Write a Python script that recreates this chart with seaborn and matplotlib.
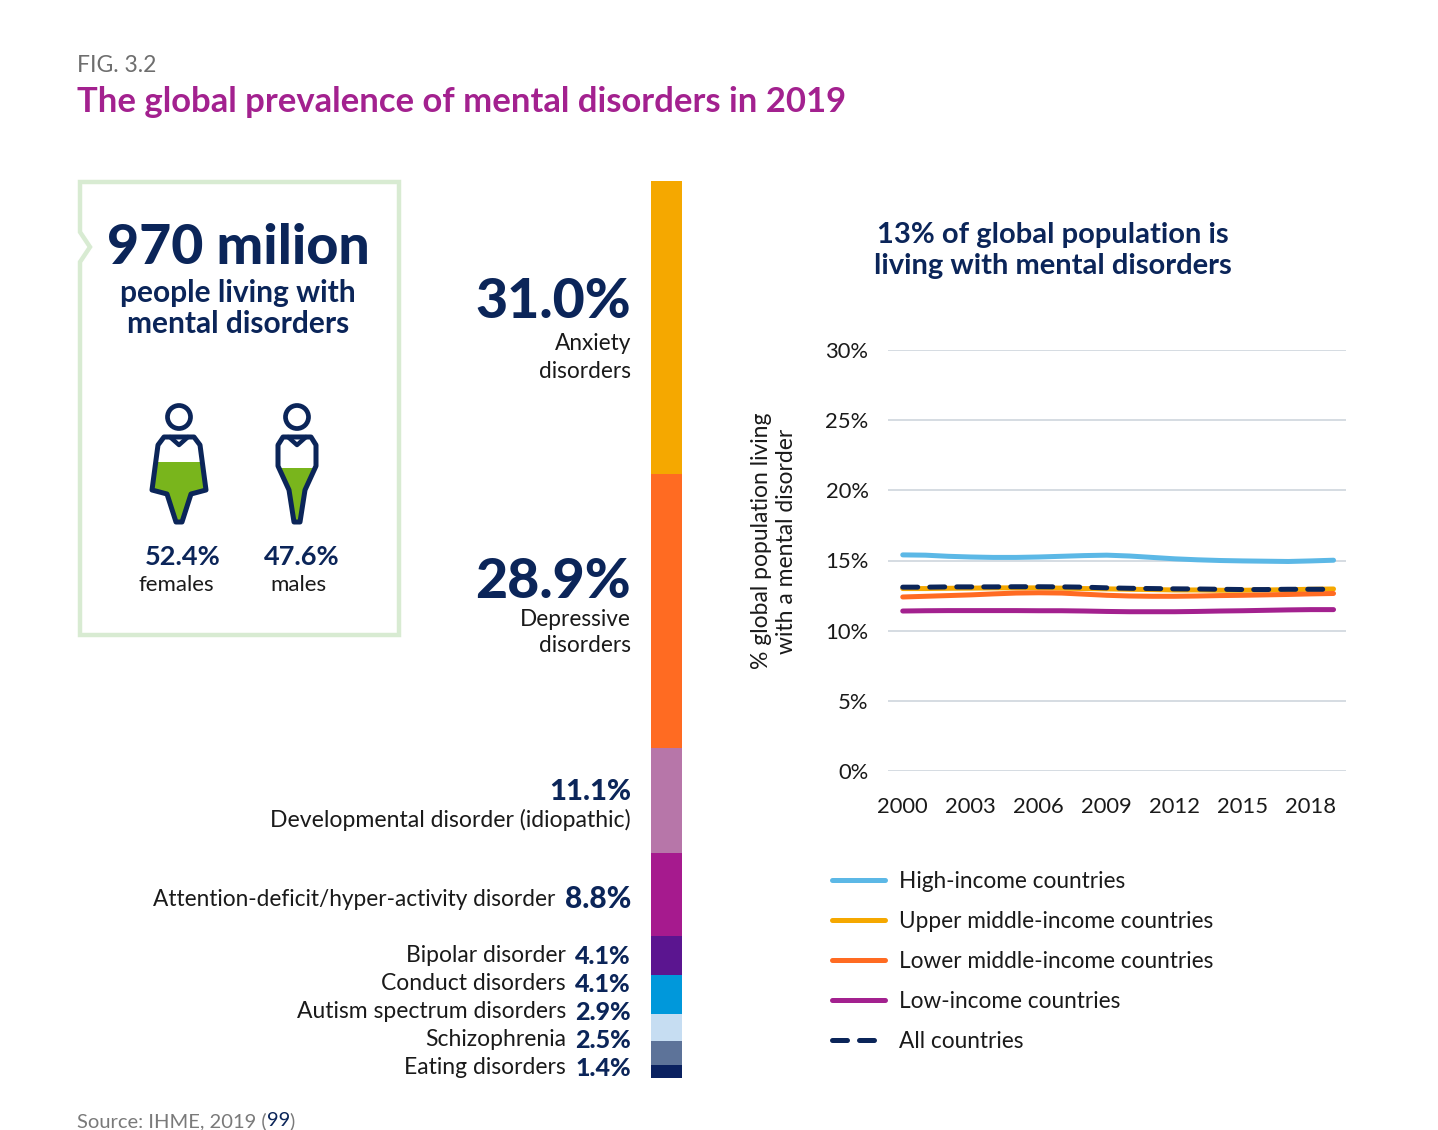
import matplotlib
matplotlib.use("Agg")
import matplotlib.pyplot as plt
import matplotlib.patches as mpatches
import numpy as np
import pandas as pd
import seaborn as sns

# ---------------- data ----------------
years = list(range(2000, 2020))
high_income = [15.40, 15.38, 15.30, 15.25, 15.22, 15.22, 15.25, 15.30, 15.35, 15.38,
               15.32, 15.22, 15.12, 15.05, 15.00, 14.97, 14.95, 14.93, 14.97, 15.02]
upper_middle = [13.00, 13.00, 13.02, 13.03, 13.05, 13.05, 13.05, 13.03, 13.00, 12.98,
                12.95, 12.93, 12.90, 12.90, 12.88, 12.88, 12.90, 12.92, 12.95, 12.97]
lower_middle = [12.40, 12.45, 12.50, 12.55, 12.62, 12.68, 12.70, 12.68, 12.60, 12.52,
                12.47, 12.45, 12.45, 12.47, 12.50, 12.52, 12.55, 12.58, 12.62, 12.65]
low_income = [11.40, 11.42, 11.43, 11.43, 11.43, 11.43, 11.42, 11.42, 11.40, 11.37,
              11.35, 11.35, 11.35, 11.37, 11.40, 11.42, 11.45, 11.48, 11.50, 11.50]
all_countries = [13.10, 13.10, 13.12, 13.12, 13.12, 13.13, 13.13, 13.12, 13.10, 13.05,
                 13.02, 13.00, 12.98, 12.97, 12.95, 12.93, 12.93, 12.95, 12.95, 12.95]
series_names = ["High-income countries", "Upper middle-income countries",
                "Lower middle-income countries", "Low-income countries", "All countries"]
series_colors = ["#5CB8E6", "#F5A800", "#FF6B22", "#A3218F", "#0B2559"]
year_ticks = [2000, 2003, 2006, 2009, 2012, 2015, 2018]
y_ticks = [0, 5, 10, 15, 20, 25, 30]

disorders = ["Anxiety disorders", "Depressive disorders", "Developmental disorder (idiopathic)",
             "Attention-deficit/hyper-activity disorder", "Bipolar disorder", "Conduct disorders",
             "Autism spectrum disorders", "Schizophrenia", "Eating disorders"]
shares = [31.0, 28.9, 11.1, 8.8, 4.1, 4.1, 2.9, 2.5, 1.4]
disorder_colors = ["#F5A800", "#FF6B22", "#B776A9", "#A61A8E", "#5B1590",
                   "#0098DB", "#C6DDF2", "#5D7399", "#0A2160"]

sex_labels = ["females", "males"]
sex_shares = [52.4, 47.6]

NAVY = "#0B2559"
GREEN = "#79B51C"
BOXGREEN = "#D8EBD2"

sns.set_theme(style="white")
plt.rcParams["font.family"] = ["Lato", "DejaVu Sans"]

W, H = 1438, 1130
fig = plt.figure(figsize=(W / 100, H / 100), dpi=100)

# overlay axes in pixel coordinates
ov = fig.add_axes([0, 0, 1, 1])
ov.set_xlim(0, W)
ov.set_ylim(H, 0)
ov.axis("off")


def rect(l, t, r, b):
    return [l / W, 1 - b / H, (r - l) / W, (b - t) / H]


# ---------------- header ----------------
ov.text(77, 66, "FIG. 3.2", fontsize=16.5, color="#6E6E6E", va="center", ha="left")
ov.text(77, 102, "The global prevalence of mental disorders in 2019", fontsize=24.9,
        color="#A3218F", fontweight="bold", va="center", ha="left")

# ---------------- info box ----------------
box_verts = [(80, 182), (399, 182), (399, 635), (80, 635), (80, 262), (90, 247), (80, 232), (80, 182)]
ov.add_patch(mpatches.Polygon(box_verts, closed=True, fill=False, edgecolor=BOXGREEN, lw=3.2))
ov.text(238, 248, "970 milion", fontsize=40, fontweight="black", color=NAVY, ha="center", va="center")
ov.text(238, 293, "people living with", fontsize=21.5, fontweight="bold", color=NAVY, ha="center", va="center")
ov.text(238, 324, "mental disorders", fontsize=21.5, fontweight="bold", color=NAVY, ha="center", va="center")


def person(cx, female, fill_top):
    ov.add_patch(mpatches.Circle((cx, 417), 11.5, fill=False, edgecolor=NAVY, lw=3.4))
    if female:
        body = [(cx - 15, 437), (cx + 15, 437), (cx + 21, 445), (cx + 27, 490), (cx + 12, 494),
                (cx + 3, 522), (cx - 3, 522), (cx - 12, 494), (cx - 27, 490), (cx - 21, 445)]
    else:
        body = [(cx - 14, 437), (cx + 14, 437), (cx + 19, 445), (cx + 19, 466), (cx + 8, 490),
                (cx + 3, 522), (cx - 3, 522), (cx - 8, 490), (cx - 19, 466), (cx - 19, 445)]
    poly = mpatches.Polygon(body, closed=True, facecolor="none", edgecolor="none")
    ov.add_patch(poly)
    fill = mpatches.Rectangle((cx - 40, fill_top), 80, 100, facecolor=GREEN, edgecolor="none")
    ov.add_patch(fill)
    fill.set_clip_path(poly)
    ov.add_patch(mpatches.Polygon(body, closed=True, fill=False, edgecolor=NAVY, lw=3.6,
                                  joinstyle="round"))
    ov.plot([cx - 9, cx, cx + 9], [437, 445, 437], color=NAVY, lw=3.2, solid_capstyle="round")


person(179, True, 462)
person(297, False, 468)
ov.text(183, 557, f"{sex_shares[0]}%", fontsize=19.5, fontweight="bold", color=NAVY, ha="center", va="center")
ov.text(176, 585, sex_labels[0], fontsize=16, color="#1A1A1A", ha="center", va="center")
ov.text(302, 557, f"{sex_shares[1]}%", fontsize=19.5, fontweight="bold", color=NAVY, ha="center", va="center")
ov.text(298, 585, sex_labels[1], fontsize=16, color="#1A1A1A", ha="center", va="center")

# ---------------- stacked bar ----------------
bax = fig.add_axes(rect(651, 181, 682, 1078))
bottoms = np.concatenate([[0], np.cumsum(shares)[:-1]])
for name, val, bot, col in zip(disorders, shares, bottoms, disorder_colors):
    bax.bar(0, val, bottom=bot, width=1.0, color=col, edgecolor="none")
bax.set_xlim(-0.5, 0.5)
bax.set_ylim(sum(shares), 0)
bax.axis("off")

RX = 631
TXT = "#1A1A1A"
ov.text(RX, 302, f"{shares[0]:.1f}%", fontsize=40, fontweight="black", color=NAVY, ha="right", va="center")
ov.text(RX, 343, "Anxiety", fontsize=16.3, color=TXT, ha="right", va="center")
ov.text(RX, 372, "disorders", fontsize=16.3, color=TXT, ha="right", va="center")
ov.text(RX, 582, f"{shares[1]:.1f}%", fontsize=40, fontweight="black", color=NAVY, ha="right", va="center")
ov.text(RX, 619, "Depressive", fontsize=16.3, color=TXT, ha="right", va="center")
ov.text(RX, 646, "disorders", fontsize=16.3, color=TXT, ha="right", va="center")
ov.text(RX, 792, f"{shares[2]:.1f}%", fontsize=21, fontweight="black", color=NAVY, ha="right", va="center")
ov.text(RX, 820, disorders[2], fontsize=16.6, color=TXT, ha="right", va="center")
ov.text(RX, 899, f"{shares[3]:.1f}%", fontsize=21.5, fontweight="black", color=NAVY, ha="right", va="center")
ov.text(555, 899, disorders[3], fontsize=16.3, color=TXT, ha="right", va="center")
small_y = [956, 984, 1012, 1040, 1068]
for i, yy in zip(range(4, 9), small_y):
    ov.text(RX, yy, f"{shares[i]:.1f}%", fontsize=18, fontweight="black", color=NAVY, ha="right", va="center")
    ov.text(566, yy, disorders[i], fontsize=16.5, color=TXT, ha="right", va="center")

# ---------------- line chart ----------------
ax = fig.add_axes(rect(888, 350, 1346, 771))
long = pd.DataFrame({
    "year": years * 5,
    "value": high_income + upper_middle + lower_middle + low_income + all_countries,
    "series": sum([[n] * len(years) for n in series_names], []),
})
palette = dict(zip(series_names, series_colors))
for name in series_names:
    sub = long[long["series"] == name]
    dashed = name == "All countries"
    sns.lineplot(data=sub, x="year", y="value", ax=ax, color=palette[name],
                 lw=3.6, label=name, linestyle=(0, (3.0, 2.4)) if dashed else "-",
                 dash_capstyle="round", solid_capstyle="round", zorder=3 if dashed else 2)

ax.set_ylim(0, 30)
ax.set_xlim(1999.35, 2019.55)
ax.set_yticks(y_ticks)
ax.set_yticklabels([f"{v}%" for v in y_ticks])
ax.set_xticks(year_ticks)
ax.set_xticklabels([str(v) for v in year_ticks])
ax.tick_params(axis="both", length=0, labelsize=15.8, labelcolor="#1A1A1A")
ax.tick_params(axis="y", pad=14)
ax.tick_params(axis="x", pad=19)
ax.yaxis.grid(True, color="#CED5DD", lw=1.2)
ax.xaxis.grid(False)
for s in ax.spines.values():
    s.set_visible(False)
ax.set_xlabel("")
ax.set_ylabel("% global population living\nwith a mental disorder", fontsize=16.5,
              color="#1A1A1A", linespacing=1.25)
ax.yaxis.set_label_coords((797 - 888) / 458, (771 - 541) / 421)

leg = ax.legend(loc="upper left", bbox_to_anchor=(823 / W, 1 - 862 / H),
                bbox_transform=fig.transFigure, frameon=False, fontsize=16.3,
                handlelength=2.35, handletextpad=0.62, labelspacing=0.84, borderaxespad=0)
for t in leg.get_texts():
    t.set_color("#1A1A1A")

ov.text(1053, 235, "13% of global population is", fontsize=21, fontweight="bold",
        color=NAVY, ha="center", va="center")
ov.text(1053, 266, "living with mental disorders", fontsize=21, fontweight="bold",
        color=NAVY, ha="center", va="center")

# ---------------- source (pieces placed by measured width) ----------------
renderer = fig.canvas.get_renderer()
x0 = 77
ys = 1121
pieces = [("Source: IHME, 2019 (", "#7A7A7A"), ("99", NAVY), (")", "#7A7A7A")]
for txt, col in pieces:
    t = ov.text(x0, ys, txt, fontsize=14.5, color=col, ha="left", va="center")
    bb = t.get_window_extent(renderer=renderer)
    x0 += bb.width

fig.savefig("out.png", dpi=100)
